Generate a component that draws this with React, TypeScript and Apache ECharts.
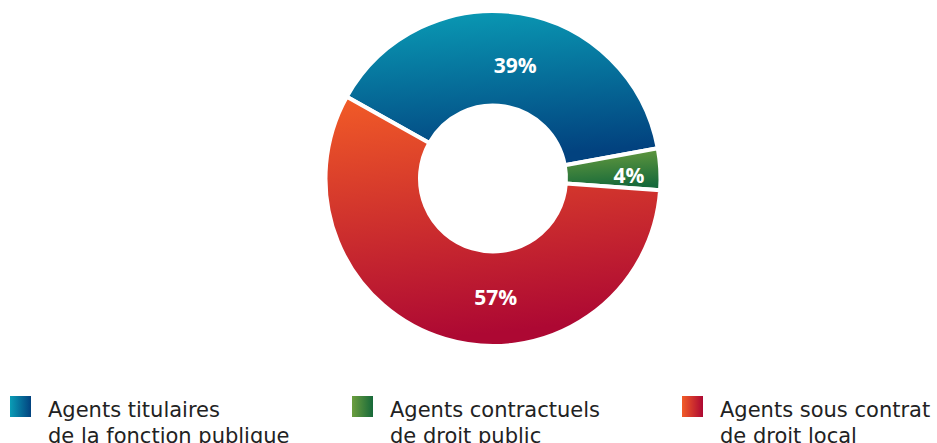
import React, { useEffect, useRef } from "react";
import * as echarts from "echarts";

const categories = [
  "Agents titulaires\nde la fonction publique",
  "Agents contractuels\nde droit public",
  "Agents sous contrat\nde droit local",
];
const shares = [39, 4, 57];
const sliceColors = [
  ["#0a9db6", "#02427f"],
  ["#6c9e3e", "#16693a"],
  ["#f25c27", "#ad0833"],
];
const labelNudge = [
  [2, 8],
  [13, 3],
  [38, 0],
];
const legendLeft = [10, 352, 682];

const FONT = "'Open Sans', 'Noto Sans', sans-serif";
const LEGEND_FONT = "'DejaVu Sans', 'Open Sans', sans-serif";

// legend icon: a 21x21 square at the top of a 21x53 box so that it sits level with the first text line
const ICON_W = 21;
const ICON_H = 53;
const legendIcon = `path://M0 0H21V21H0Z M0 ${ICON_H}L21 ${ICON_H}`;

export default function App() {
  const ref = useRef<HTMLDivElement>(null);
  useEffect(() => {
    if (!ref.current) return;
    const chart = echarts.init(ref.current, null, { renderer: "svg" });
    const grad = (c: string[], x1: number, y1: number) =>
      new echarts.graphic.LinearGradient(0, 0, x1, y1, [
        { offset: 0, color: c[0] },
        { offset: 1, color: c[1] },
      ]);
    chart.setOption({
      animation: false,
      backgroundColor: "#ffffff",
      legend: categories.map((name, i) => ({
        data: [
          {
            name,
            icon: legendIcon,
            itemStyle: { color: grad(sliceColors[i], 1, 0), borderWidth: 0 },
          },
        ],
        left: legendLeft[i],
        top: 396,
        padding: 0,
        orient: "horizontal",
        itemWidth: ICON_W,
        itemHeight: ICON_H,
        selectedMode: false,
        textStyle: {
          fontFamily: LEGEND_FONT,
          fontSize: 21,
          color: "#222222",
          lineHeight: 26,
          padding: [0, 0, 0, 12],
        },
      })),
      series: [
        {
          type: "pie",
          center: [493, 178.5],
          radius: [73, 167.5],
          startAngle: 150.8,
          clockwise: true,
          avoidLabelOverlap: false,
          itemStyle: { borderColor: "#ffffff", borderWidth: 4 },
          label: {
            show: true,
            position: "inside",
            formatter: "{c}%",
            color: "#ffffff",
            fontFamily: FONT,
            fontWeight: "bold",
            fontSize: 21,
          },
          labelLine: { show: false },
          labelLayout: (p: any) => ({
            dx: labelNudge[p.dataIndex][0],
            dy: labelNudge[p.dataIndex][1],
          }),
          emphasis: { disabled: true },
          data: categories.map((name, i) => ({
            name,
            value: shares[i],
            itemStyle: { color: grad(sliceColors[i], 0.15, 1) },
          })),
        },
      ],
    });
    return () => chart.dispose();
  }, []);
  return (
    <div
      ref={ref}
      style={{ position: "fixed", left: 0, top: 0, width: 937, height: 443 }}
    />
  );
}
